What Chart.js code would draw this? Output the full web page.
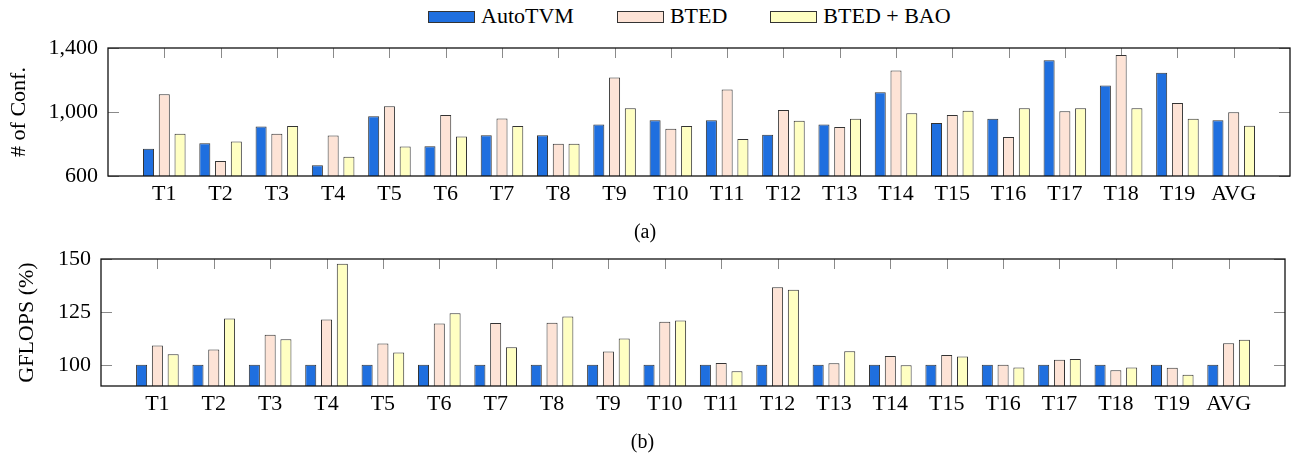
<!DOCTYPE html>
<html>
<head>
<meta charset="utf-8">
<script src="https://cdn.jsdelivr.net/npm/chart.js@4.4.1/dist/chart.umd.min.js"></script>
<style>
  html, body { margin: 0; padding: 0; background: #fff; overflow: hidden; }
  body { width: 1294px; height: 453px; position: relative; font-family: "Liberation Serif", serif; }
  canvas { position: absolute; left: 0; }
  #legend { position: absolute; left: 428px; top: 0; height: 34px; display: flex; align-items: center; font-size: 22px; line-height: 22px; }
  #legend .box { width: 47px; height: 12px; box-sizing: border-box; border: 1px solid #333; }
  #legend .txt { margin-left: 6px; margin-right: 43px; position: relative; top: -1px; }
</style>
</head>
<body>
<div id="legend"></div>
<canvas id="conf" width="1294" height="250" style="top:0"></canvas>
<canvas id="gflops" width="1294" height="215" style="top:250px"></canvas>
<script>
// tasks
const categories = ['T1', 'T2', 'T3', 'T4', 'T5', 'T6', 'T7', 'T8', 'T9', 'T10',
  'T11', 'T12', 'T13', 'T14', 'T15', 'T16', 'T17', 'T18', 'T19', 'AVG'];

// (a) number of configurations
const confAutoTVM = [770, 805, 910, 667, 973, 786, 855, 855, 922, 948, 948, 858, 922, 1124, 931, 958, 1323, 1165, 1245, 948];
const confBTED    = [1111, 694, 864, 853, 1036, 981, 960, 801, 1216, 895, 1140, 1013, 906, 1260, 981, 843, 1004, 1356, 1057, 998];
const confBAO     = [864, 816, 912, 721, 784, 847, 912, 801, 1023, 912, 832, 946, 958, 992, 1008, 1023, 1023, 1023, 958, 914];
const confTicks   = [600, 1000, 1400];

// (b) GFLOPS relative to AutoTVM
const gfAutoTVM = [100, 100, 100, 100, 100, 100, 100, 100, 100, 100, 100, 100, 100, 100, 100, 100, 100, 100, 100, 100];
const gfBTED    = [109.1, 107.2, 114.2, 121.4, 110.1, 119.5, 119.8, 119.9, 106.3, 120.3, 100.9, 136.6, 100.8, 104.2, 104.7, 100, 102.4, 97.5, 98.6, 110.2];
const gfBAO     = [105, 121.9, 112.1, 147.8, 105.8, 124.4, 108.3, 122.8, 112.4, 120.9, 97, 135.5, 106.4, 99.8, 103.9, 98.7, 102.7, 98.7, 95.3, 111.8];
const gfTicks   = [100, 125, 150];

const seriesNames = ['AutoTVM', 'BTED', 'BTED + BAO'];
const seriesColors = ['#1f6fdf', '#fde3d6', '#ffffc2'];

Chart.defaults.font.family = '"Liberation Serif", serif';
Chart.defaults.color = '#000';

// one empty slot each side, like pgfplots enlarge x limits
const labels = ['', ...categories, ''];
const pad = arr => [null, ...arr, null];

// inner tick marks + black frame
const frameTicks = {
  id: 'frameTicks',
  beforeDatasetsDraw(chart) {
    const { ctx, chartArea: a, scales: { x, y } } = chart;
    ctx.save();
    ctx.strokeStyle = '#8a8a8a';
    ctx.lineWidth = 1;
    ctx.beginPath();
    x.ticks.forEach((t, i) => {
      if (!x.getLabelForValue(t.value)) return;
      const px = Math.round(x.getPixelForTick(i)) + 0.5;
      ctx.moveTo(px, a.top); ctx.lineTo(px, a.top + 10);
      ctx.moveTo(px, a.bottom); ctx.lineTo(px, a.bottom - 10);
    });
    y.ticks.forEach(t => {
      const py = Math.round(y.getPixelForValue(t.value)) + 0.5;
      ctx.moveTo(a.left, py); ctx.lineTo(a.left + 11, py);
      ctx.moveTo(a.right, py); ctx.lineTo(a.right - 11, py);
    });
    ctx.stroke();
    ctx.restore();
  },
  afterDatasetsDraw(chart) {
    const { ctx, chartArea: a } = chart;
    ctx.save();
    ctx.strokeStyle = '#111';
    ctx.lineWidth = 1.3;
    ctx.strokeRect(a.left, a.top, a.right - a.left, a.bottom - a.top);
    ctx.restore();
  }
};

function makeChart(id, series, yMin, yMax, yTicks, yTitle, caption, o) {
  return new Chart(document.getElementById(id), {
    type: 'bar',
    data: {
      labels: labels,
      datasets: series.map((d, i) => ({
        label: seriesNames[i],
        data: pad(d),
        backgroundColor: seriesColors[i],
        borderColor: '#333',
        borderWidth: 1,
        categoryPercentage: 0.84,
        barPercentage: 0.70
      }))
    },
    options: {
      responsive: false,
      animation: false,
      events: [],
      layout: { padding: { top: o.top, right: o.right, left: 0, bottom: 0 } },
      plugins: {
        legend: { display: false },
        tooltip: { enabled: false },
        title: {
          display: true, text: caption, position: 'bottom',
          font: { size: 20, weight: 'normal', lineHeight: 1.2 },
          padding: { top: 0, bottom: o.capPad }
        }
      },
      scales: {
        x: {
          offset: false,
          grid: { display: false, drawTicks: false },
          border: { display: false },
          ticks: { autoSkip: false, maxRotation: 0, padding: 5, font: { size: 22 } },
          afterFit: s => { s.height = 45; s.paddingLeft = 0; s.paddingRight = 0; }
        },
        y: {
          min: yMin, max: yMax,
          grid: { display: false, drawTicks: false },
          border: { display: false },
          ticks: { padding: 10, font: { size: 22 } },
          afterBuildTicks: s => { s.ticks = yTicks.map(v => ({ value: v })); },
          afterFit: s => { s.width = o.yWidth; s.paddingTop = 0; s.paddingBottom = 0; },
          title: {
            display: true, text: yTitle,
            font: { size: 22, lineHeight: 1.2 },
            padding: { top: o.titlePad, bottom: 0 }
          }
        }
      }
    },
    plugins: [frameTicks]
  });
}

const confChart = makeChart('conf', [confAutoTVM, confBTED, confBAO], 600, 1400, confTicks,
  '# of Conf.', '(a)', { top: 48, right: 4, yWidth: 108, capPad: 5, titlePad: 6.4 });
makeChart('gflops', [gfAutoTVM, gfBTED, gfBAO], 90, 150, gfTicks,
  'GFLOPS (%)', '(b)', { top: 9, right: 9, yWidth: 101, capPad: 10, titlePad: 14.4 });

// shared legend, built from the first chart's datasets
const legend = document.getElementById('legend');
confChart.data.datasets.forEach(ds => {
  const box = document.createElement('span');
  box.className = 'box';
  box.style.background = ds.backgroundColor;
  const txt = document.createElement('span');
  txt.className = 'txt';
  txt.textContent = ds.label;
  legend.appendChild(box);
  legend.appendChild(txt);
});
</script>
</body>
</html>
